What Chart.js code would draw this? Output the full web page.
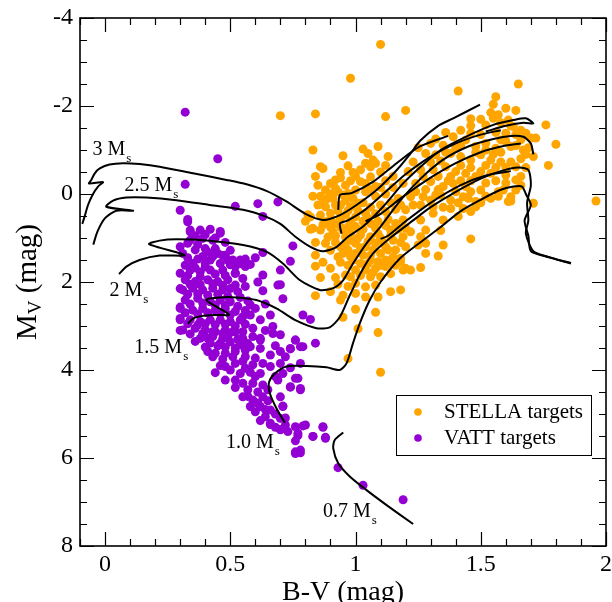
<!DOCTYPE html>
<html><head><meta charset="utf-8">
<script src="https://cdn.jsdelivr.net/npm/chart.js@4.4.1/dist/chart.umd.min.js"></script>
<style>html,body{margin:0;padding:0;background:#fff}canvas{display:block}</style>
</head><body>
<canvas id="c" width="612" height="602"></canvas>
<script>
const xTicks=[0,0.5,1,1.5,2];
const yTicks=[-4,-2,0,2,4,6,8];
const seriesNames=['STELLA targets','VATT targets'];

const stella=[
[1.10,-3.40],[0.98,-2.63],[1.65,-2.50],[1.41,-2.34],[1.56,-2.21],[0.70,-1.78],[0.84,-1.82],[1.12,-1.76],[1.20,-1.90],[1.55,-2.04],[1.46,-1.71],[1.60,-1.95],[1.64,-1.90],[1.76,-1.57],[1.80,-1.13],[1.77,-0.65],[1.96,0.16],[1.71,0.21],[1.46,1.02],[1.10,4.05],[0.97,3.74],[1.09,3.15],[1.01,3.06],[1.08,2.69],[1.00,2.62],[0.95,2.80],[0.84,2.31],[0.94,2.41],[0.84,1.64],
[0.83,-1.00],[0.95,-0.87],[1.03,-1.02],[1.09,-1.08],[1.05,-0.92],[1.07,-0.77],[0.86,-0.62],[0.87,-0.58],[0.97,-0.64],[0.94,-0.49],[0.99,-0.49],[1.06,-0.62],[1.08,-0.70],[0.90,-0.24],[0.92,-0.32],[0.94,-0.37],[0.88,-0.09],[0.92,-0.13],[1.02,-0.28],[1.06,-0.39],[1.04,-0.24],[1.08,-0.17],[1.00,-0.09],[1.04,-0.05],[0.89,0.10],[0.91,0.10],[0.95,0.02],[0.97,-0.01],[0.88,0.29],[0.92,0.25],[0.94,0.25],[0.98,0.29],[1.01,0.21],[0.86,0.48],[0.90,0.44],[0.96,0.48],[1.00,0.52],[1.04,0.44],[0.82,0.52],[0.88,0.63],[0.92,0.67],[1.00,0.74],[1.06,0.67],[0.83,0.78],[0.86,0.82],[0.91,0.86],[0.95,0.82],[0.98,0.90],[1.02,0.93],[1.06,0.97],[1.09,0.90],[1.14,0.82],[1.16,0.67],[1.19,0.59],[0.98,1.05],[1.00,1.12],[1.04,1.20],[1.08,1.12],[1.11,1.09],[1.15,1.05],[1.19,0.97],[0.94,1.20],[0.97,1.27],[1.00,1.35],[1.03,1.39],[1.06,1.39],[1.10,1.35],[1.13,1.27],[1.16,1.27],[1.20,1.20],[0.84,1.39],[0.93,1.43],[0.99,1.50],[1.02,1.58],[1.06,1.50],[1.09,1.54],[1.12,1.50],[1.15,1.43],[1.18,1.46],[0.90,1.69],[1.00,1.73],[1.04,1.73],[1.08,1.69],[1.12,1.65],[1.16,1.62],[1.20,1.69],[0.86,1.90],[0.96,1.84],[0.98,1.88],[1.06,1.88],[1.10,1.88],[1.14,1.81],[1.00,2.03],[1.04,2.11],[1.08,2.07],[0.90,2.22],[0.95,2.30],[1.00,2.26],[1.04,2.34],[1.09,2.34],[1.14,2.22],[1.18,2.18],
[1.52,-1.57],[1.57,-1.80],[1.55,-1.72],[1.61,-1.68],[1.63,-1.53],[1.60,-1.38],[1.58,-1.23],[1.39,-1.30],[1.30,-1.15],[1.35,-1.11],[1.44,-1.23],[1.48,-1.08],[1.52,-1.15],[1.56,-1.04],[1.62,-1.08],[1.66,-1.23],[1.70,-1.27],[1.72,-1.27],[1.71,-0.85],[1.28,-0.92],[1.32,-0.89],[1.38,-0.92],[1.42,-0.85],[1.46,-0.77],[1.50,-0.89],[1.54,-0.77],[1.58,-0.73],[1.62,-0.73],[1.64,-0.62],[1.23,-0.73],[1.21,-0.51],[1.26,-0.55],[1.31,-0.55],[1.36,-0.62],[1.40,-0.51],[1.44,-0.47],[1.50,-0.51],[1.54,-0.47],[1.60,-0.43],[1.64,-0.32],[1.19,-0.24],[1.24,-0.24],[1.30,-0.28],[1.35,-0.17],[1.39,-0.24],[1.44,-0.17],[1.50,-0.09],[1.54,0.10],[1.59,-0.09],[1.62,0.06],[1.22,0.06],[1.27,0.06],[1.32,0.02],[1.38,0.14],[1.43,0.06],[1.48,0.17],[1.26,0.25],[1.31,0.29],
[1.61,0.17],[1.50,0.20],[1.48,0.29],[1.46,0.40],[1.43,0.33],[1.38,0.33],[1.41,0.51],[1.35,0.59],[1.34,0.83],[1.35,1.16],[1.28,1.12],[1.25,1.16],[1.28,1.35],[1.33,1.41],[1.26,1.67],[1.22,1.73],[1.19,1.73],[1.18,1.54],[1.28,0.82],[1.26,0.97],[1.22,0.86],[1.31,0.44],[1.26,0.59],[1.20,0.36],[1.23,0.25],[1.34,0.02],[1.30,0.14],[1.57,-0.05],[1.64,-0.09],[1.62,0.16],[1.66,-0.40],[1.68,-0.90],[1.69,-1.05],
[0.85,-0.20],[0.86,0.05],[0.87,0.20],[0.90,0.00],[0.93,-0.05],[0.96,-0.20],[0.98,-0.30],[1.00,-0.40],[1.02,-0.55],[1.04,-0.70],[1.10,-0.50],[1.12,-0.65],[1.13,-0.85],[1.15,-0.40],[1.12,-0.30],[1.10,-0.15],[1.06,-0.10],[1.08,0.05],[1.12,0.00],[1.15,-0.15],[1.17,0.10],[1.14,0.20],[1.10,0.25],[1.06,0.30],[1.03,0.20],[0.99,0.10],[0.96,0.15],[0.93,0.38],[0.97,0.38],[1.01,0.38],[1.05,0.55],[1.08,0.45],[1.12,0.40],[1.16,0.35],[1.18,0.25],[1.13,0.58],[1.09,0.62],[1.03,0.62],[0.98,0.62],[0.94,0.55],[0.90,0.58],[0.87,0.70],[0.90,0.75],[0.94,0.75],[0.97,0.75],[1.03,0.80],[1.08,0.78],[1.12,0.72],[1.17,0.80],[1.20,0.78],[1.14,0.95],[1.10,1.00],[1.05,1.08],[1.01,1.00],[0.96,0.98],[0.92,0.95],[0.89,0.98],[0.88,1.12],[0.92,1.10],[0.96,1.12],[1.02,1.22],[1.07,1.27],[1.12,1.20],[1.18,1.10],[0.90,1.28],[0.95,1.35],[0.98,1.42],[1.05,1.58],[1.10,1.62],[1.14,1.58],[0.94,1.55],[0.97,1.62],[0.87,1.55],[1.02,1.85],[1.07,1.78],[0.92,1.90],[0.93,2.05],[0.97,2.10],
[1.25,-1.05],[1.32,-1.25],[1.36,-1.40],[1.42,-1.45],[1.46,-1.55],[1.50,-1.70],[1.54,-1.85],[1.58,-1.62],[1.62,-1.55],[1.66,-1.45],[1.68,-1.38],[1.64,-1.35],[1.56,-1.40],[1.50,-1.35],[1.46,-1.38],[1.42,-1.10],[1.40,-1.05],[1.36,-0.95],[1.34,-0.75],[1.30,-0.72],[1.27,-0.40],[1.33,-0.40],[1.38,-0.40],[1.42,-0.65],[1.46,-0.60],[1.48,-0.95],[1.52,-1.00],[1.55,-0.90],[1.58,-0.95],[1.60,-1.20],[1.64,-1.10],[1.67,-1.00],[1.66,-0.80],[1.60,-0.60],[1.56,-0.60],[1.52,-0.65],[1.48,-0.40],[1.46,-0.30],[1.42,-0.30],[1.37,-0.30],[1.33,-0.10],[1.28,-0.10],[1.24,-0.05],[1.40,-0.05],[1.46,-0.05],[1.52,-0.25],[1.56,-0.30],[1.60,-0.25],[1.66,-0.20],[1.68,-0.60],[1.45,0.10],[1.41,0.20],[1.35,0.30],[1.57,0.05],[1.52,0.05],
[0.81,0.47],[0.82,0.80],[0.80,0.62],[0.84,1.10],[0.85,0.25],[0.83,0.05],[0.84,-0.40]
];

const vatt=[
[0.30,0.37],[0.33,0.58],[0.32,-0.22],[0.32,-1.86],[0.45,-0.80],[0.52,0.28],[0.61,0.22],[0.69,0.18],[0.63,0.51],[0.63,1.33],[0.75,1.18],[0.74,1.53],[0.63,1.84],[0.70,2.06],[0.71,2.38],[0.79,2.75],[0.82,2.85],[0.84,3.39],[0.76,3.32],[0.74,3.52],[0.79,3.47],[0.78,4.45],[0.74,4.39],[0.77,4.19],[0.71,4.82],[0.72,5.09],[0.79,5.27],[0.87,5.30],[0.83,5.51],[0.88,5.55],[0.77,5.49],[0.76,5.61],[0.78,5.88],[0.76,5.90],[0.93,6.22],[1.03,6.62],[1.19,6.95],[0.70,5.35],[0.66,5.24],
[0.30,1.80],[0.30,2.15],[0.30,2.57],[0.30,2.83],[0.30,3.10],[0.34,0.82],[0.42,0.80],[0.46,0.85],[0.47,1.40],[0.51,1.56],[0.52,1.80],[0.54,1.52],[0.56,1.48],[0.44,4.06],
[0.33,0.63],[0.34,0.86],[0.38,0.82],[0.46,0.89],[0.34,1.05],[0.39,1.01],[0.43,1.05],[0.30,1.20],[0.36,1.27],[0.40,1.24],[0.44,1.24],[0.31,1.35],[0.39,1.42],[0.43,1.42],[0.48,1.39],[0.51,1.50],[0.54,1.50],[0.35,1.58],[0.40,1.58],[0.46,1.58],[0.50,1.61],[0.54,1.58],[0.34,1.73],[0.38,1.77],[0.42,1.73],[0.47,1.73],[0.52,1.80],[0.70,1.73],[0.32,1.95],[0.36,1.99],[0.41,1.95],[0.45,1.99],[0.49,1.95],[0.52,2.07],[0.69,2.07],[0.31,2.18],[0.35,2.14],[0.39,2.18],[0.43,2.14],[0.47,2.18],[0.53,2.22],[0.63,2.20],[0.32,2.41],[0.37,2.37],[0.42,2.45],[0.46,2.41],[0.50,2.45],[0.58,2.52],[0.30,2.60],[0.35,2.64],[0.39,2.60],[0.44,2.64],[0.48,2.60],[0.52,2.67],[0.58,2.75],[0.55,2.79],[0.30,2.86],[0.34,2.86],[0.38,2.90],[0.42,2.86],[0.46,2.86],[0.50,2.90],[0.54,2.86],[0.62,2.86],[0.67,3.01],[0.31,3.09],[0.36,3.05],[0.40,3.09],[0.44,3.13],[0.48,3.09],[0.52,3.13],[0.59,3.05],[0.38,3.28],[0.43,3.24],[0.47,3.28],[0.55,3.28],[0.62,3.28],
[0.39,3.17],[0.43,3.13],[0.47,3.17],[0.51,3.13],[0.55,3.13],[0.59,3.24],[0.62,3.32],[0.67,3.17],[0.76,3.32],[0.78,3.47],[0.42,3.39],[0.46,3.39],[0.50,3.36],[0.54,3.43],[0.58,3.47],[0.62,3.51],[0.70,3.58],[0.74,3.51],[0.41,3.58],[0.44,3.62],[0.48,3.62],[0.52,3.58],[0.56,3.70],[0.60,3.73],[0.66,3.66],[0.70,3.85],[0.78,3.85],[0.48,3.92],[0.52,3.85],[0.56,3.96],[0.62,4.08],[0.66,3.92],[0.71,4.08],[0.76,4.19],[0.48,4.23],[0.52,4.23],[0.55,4.30],[0.59,4.30],[0.63,4.34],[0.69,4.23],[0.74,4.38],[0.78,4.42],[0.55,4.61],[0.59,4.68],[0.63,4.61],[0.70,4.61],[0.58,4.83],[0.62,4.83],[0.66,4.91],[0.71,4.83],[0.64,5.06],[0.66,5.21],[0.70,5.10],[0.72,5.25],[0.70,5.36],[0.76,5.29],[0.77,5.44],[0.80,5.25],[0.83,5.51],[0.87,5.29],[0.88,5.53],[0.76,5.86],[0.78,5.82],
[0.36,0.95],[0.40,0.92],[0.44,1.00],[0.48,1.10],[0.33,1.12],[0.37,1.15],[0.41,1.32],[0.45,1.35],[0.50,1.28],[0.33,1.45],[0.37,1.48],[0.42,1.50],[0.49,1.50],[0.52,1.65],[0.56,1.65],[0.32,1.62],[0.36,1.68],[0.40,1.66],[0.44,1.82],[0.48,1.85],[0.55,1.92],[0.33,1.85],[0.38,1.88],[0.34,2.05],[0.38,2.06],[0.43,2.04],[0.47,2.08],[0.50,2.15],[0.56,2.10],[0.33,2.28],[0.37,2.27],[0.41,2.30],[0.45,2.28],[0.49,2.33],[0.54,2.35],[0.57,2.43],[0.34,2.50],[0.39,2.48],[0.44,2.52],[0.48,2.52],[0.53,2.55],[0.32,2.70],[0.37,2.73],[0.41,2.70],[0.46,2.72],[0.50,2.75],[0.56,2.65],[0.33,2.95],[0.37,2.98],[0.40,2.95],[0.44,2.97],[0.48,2.96],[0.52,3.00],[0.56,2.96],[0.34,3.18],[0.36,3.35],[0.41,3.28],[0.45,3.45],[0.49,3.24],[0.53,3.30],[0.57,3.40],[0.40,3.48],[0.48,3.48],[0.52,3.50],[0.56,3.55],[0.43,3.70],[0.47,3.75],[0.51,3.70],[0.55,3.80],[0.59,3.88],[0.63,3.85],[0.46,3.90],[0.50,4.00],[0.54,4.08],[0.58,4.05],[0.60,4.15],[0.52,4.40],[0.57,4.45],[0.61,4.50],[0.65,4.45],[0.57,4.60],[0.61,4.75],[0.65,4.70],[0.60,4.95],[0.64,4.90],[0.68,5.00],[0.62,5.15],[0.68,5.30],[0.73,5.40],
[0.60,1.45],[0.58,1.60],[0.61,2.00],[0.60,2.60],[0.64,2.50],[0.66,2.75],[0.64,3.10],[0.70,3.20],[0.68,3.45],[0.72,3.70],[0.74,3.95],[0.68,4.15]
];

const track30=[[-0.091,0.68],[-0.082,0.52],[-0.068,0.25],[-0.048,0.0],[-0.028,-0.17],[-0.008,-0.27],[-0.064,-0.24],[-0.055,-0.32],[-0.041,-0.47],[-0.021,-0.58],[0.018,-0.67],[0.072,-0.70],[0.138,-0.68],[0.218,-0.62],[0.351,-0.47],[0.485,-0.32],[0.565,-0.22],[0.644,-0.07],[0.724,0.17],[0.80,0.45],[0.871,0.59],[0.938,0.48],[1.004,0.25],[1.084,-0.09],[1.164,-0.54],[1.217,-0.90],[1.26,-1.22],[1.33,-1.55],[1.39,-1.72],[1.497,-2.03]];
const loop30=[[0.931,0.36],[0.938,0.02],[0.984,-0.02],[1.071,-0.28],[1.164,-0.70],[1.257,-1.08],[1.37,-1.32]];
const track25=[[-0.047,1.15],[-0.030,0.85],[0.000,0.55],[0.045,0.38],[0.112,0.38],[0.005,0.29],[0.032,0.15],[0.085,0.08],[0.165,0.08],[0.285,0.14],[0.418,0.25],[0.551,0.36],[0.644,0.52],[0.70,0.68],[0.76,0.97],[0.82,1.20],[0.87,1.30],[0.92,1.22],[0.97,0.97],[1.03,0.74],[1.11,0.29],[1.19,-0.24],[1.26,-0.62],[1.34,-1.0],[1.44,-1.30],[1.55,-1.57],[1.63,-1.68],[1.68,-1.72],[1.71,-1.60],[1.67,-1.62],[1.60,-1.55],[1.52,-1.42]];
const loop25=[[0.944,0.90],[0.938,0.67],[0.97,0.60],[1.04,0.35],[1.12,-0.05],[1.20,-0.45],[1.30,-0.85],[1.40,-1.15],[1.50,-1.35],[1.58,-1.45]];
const track20=[[0.056,1.82],[0.085,1.65],[0.138,1.50],[0.218,1.40],[0.318,1.39],[0.176,1.14],[0.218,1.06],[0.285,1.03],[0.418,1.06],[0.551,1.16],[0.644,1.31],[0.71,1.58],[0.777,1.955],[0.857,2.18],[0.911,2.14],[0.951,1.955],[0.99,1.58],[1.044,1.12],[1.10,0.74],[1.18,0.14],[1.26,-0.35],[1.35,-0.78],[1.45,-1.08],[1.55,-1.25],[1.62,-1.32],[1.67,-1.30],[1.70,-1.15],[1.71,-0.9]];
const loop20=[[1.04,0.62],[1.10,0.45],[1.18,0.10],[1.28,-0.30],[1.40,-0.70],[1.50,-0.95],[1.60,-1.10],[1.66,-1.15]];
const track15=[[0.331,2.95],[0.351,2.83],[0.391,2.77],[0.444,2.75],[0.495,2.74],[0.404,2.41],[0.458,2.35],[0.524,2.35],[0.604,2.41],[0.684,2.6],[0.764,2.88],[0.844,3.05],[0.897,3.03],[0.937,2.80],[0.975,2.33],[1.02,1.80],[1.07,1.35],[1.138,1.0],[1.23,0.60],[1.30,0.30],[1.40,-0.05],[1.50,-0.35],[1.58,-0.52],[1.65,-0.60],[1.69,-0.55],[1.70,-0.2],[1.685,0.2],[1.69,0.6],[1.68,0.9],[1.71,1.3],[1.77,1.43],[1.86,1.58]];
const loop15=[[1.10,1.02],[1.13,0.95],[1.20,0.62],[1.30,0.20],[1.42,-0.20],[1.52,-0.42],[1.62,-0.52]];
const track10=[[0.718,5.20],[0.684,4.87],[0.658,4.53],[0.655,4.27],[0.678,4.08],[0.724,3.92],[0.804,3.91],[0.884,3.94],[0.937,4.0],[0.964,3.85],[0.99,3.39],[1.017,2.94],[1.057,2.41],[1.10,2.0],[1.18,1.45],[1.27,1.05],[1.34,0.75],[1.417,0.40],[1.497,0.14],[1.577,-0.09],[1.63,-0.17],[1.665,-0.17],[1.68,0.0],[1.70,0.25],[1.675,0.6],[1.69,0.95],[1.70,1.3],[1.76,1.42],[1.86,1.57]];
const track07=[[0.951,5.42],[0.917,5.59],[0.911,5.78],[0.931,6.12],[0.977,6.42],[1.044,6.73],[1.124,7.07],[1.23,7.50]];
const tracks=[track30,loop30,track25,loop25,track20,loop20,track15,loop15,track10,track07];

const massLabels=['3','2.5','2','1.5','1.0','0.7'];
const massLabelX=[-0.05,0.078,0.018,0.117,0.483,0.870];
const massLabelY=[-0.89,-0.07,2.31,3.62,5.78,7.33];

const serif='"Liberation Serif","Times New Roman",serif';
const toXY=a=>a.map(p=>({x:p[0],y:p[1]}));

const datasets=[];
tracks.forEach(t=>datasets.push({data:toXY(t),showLine:true,borderColor:'#000',borderWidth:2,pointRadius:0,tension:0.25,fill:false,order:0}));
datasets.push({label:seriesNames[0],data:toXY(stella),backgroundColor:'#FFA500',borderWidth:0,pointRadius:4.5,order:2});
datasets.push({label:seriesNames[1],data:toXY(vatt),backgroundColor:'#9400D3',borderWidth:0,pointRadius:4.5,order:1});

function subText(ctx,main,sub,x,y,fs,ss,dy){
  ctx.font=fs+'px '+serif; ctx.fillText(main,x,y);
  const w=ctx.measureText(main).width;
  ctx.font=ss+'px '+serif; ctx.fillText(sub,x+w+1,y+dy);
}

const decor={
  id:'decor',
  afterDraw(chart){
    const {ctx,chartArea:a,scales:{x,y}}=chart;
    ctx.save();
    ctx.strokeStyle='#000'; ctx.fillStyle='#000';
    ctx.lineWidth=1.2;
    ctx.beginPath();
    for(let i=-1;i<=20;i++){
      const v=i/10; if(v<x.min-1e-9||v>x.max+1e-9) continue;
      const px=Math.round(x.getPixelForValue(v))+0.5;
      const major=Math.abs(v*2-Math.round(v*2))<1e-6;
      const L=major?14:7;
      ctx.moveTo(px,a.bottom);ctx.lineTo(px,a.bottom-L);
      ctx.moveTo(px,a.top);ctx.lineTo(px,a.top+L);
    }
    for(let v=-4;v<=8;v+=0.5){
      const py=Math.round(y.getPixelForValue(v))+0.5;
      const major=Math.abs(v/2-Math.round(v/2))<1e-6;
      const L=major?14:7;
      ctx.moveTo(a.left,py);ctx.lineTo(a.left+L,py);
      ctx.moveTo(a.right,py);ctx.lineTo(a.right-L,py);
    }
    ctx.stroke();
    ctx.lineWidth=1.6;
    ctx.strokeRect(a.left,a.top,a.right-a.left,a.bottom-a.top);

    ctx.textAlign='left'; ctx.textBaseline='alphabetic';
    massLabels.forEach((m,i)=>{
      subText(ctx,m+' M','s',x.getPixelForValue(massLabelX[i]),y.getPixelForValue(massLabelY[i]),20,13,7);
    });

    ctx.font='28px '+serif; ctx.textAlign='center';
    ctx.fillText('B-V (mag)',(a.left+a.right)/2,600);

    ctx.save();
    ctx.translate(36,(a.top+a.bottom)/2);
    ctx.rotate(-Math.PI/2);
    ctx.textAlign='left';
    ctx.font='29px '+serif; const w1=ctx.measureText('M').width;
    ctx.font='19px '+serif; const w2=ctx.measureText('V').width;
    ctx.font='29px '+serif; const w3=ctx.measureText(' (mag)').width;
    let sx=-(w1+w2+w3)/2;
    ctx.fillText('M',sx,0); sx+=w1;
    ctx.font='19px '+serif; ctx.fillText('V',sx,5); sx+=w2;
    ctx.font='29px '+serif; ctx.fillText(' (mag)',sx,0);
    ctx.restore();

    const bx=a.right-210, by=a.top+377, bw=195, bh=60;
    ctx.fillStyle='#fff'; ctx.fillRect(bx,by,bw,bh);
    ctx.lineWidth=1; ctx.strokeStyle='#000';
    ctx.strokeRect(bx+0.5,by+0.5,bw,bh);
    const cols=[datasets[datasets.length-2].backgroundColor,datasets[datasets.length-1].backgroundColor];
    ctx.font='21px '+serif; ctx.textAlign='left';
    seriesNames.forEach((n,i)=>{
      ctx.fillStyle=cols[i];
      ctx.beginPath(); ctx.arc(bx+22,by+17+i*26,3.8,0,Math.PI*2); ctx.fill();
      ctx.fillStyle='#000';
      ctx.fillText(n,bx+48,by+23+i*26);
    });
    ctx.restore();
  }
};

new Chart(document.getElementById('c'),{
  type:'scatter',
  data:{datasets},
  options:{
    responsive:false,animation:false,devicePixelRatio:1,
    layout:{padding:{top:18,right:6,left:0,bottom:0}},
    plugins:{legend:{display:false},tooltip:{enabled:false}},
    scales:{
      x:{type:'linear',min:-0.1,max:2.0,
        afterBuildTicks:s=>{s.ticks=xTicks.map(v=>({value:v}));},
        afterFit:s=>{s.height=56;s.paddingLeft=0;s.paddingRight=0;},
        grid:{display:false,drawTicks:false},border:{display:false},
        ticks:{color:'#000',font:{family:serif,size:24},padding:4,maxRotation:0,autoSkip:false,callback:v=>String(v)}},
      y:{type:'linear',reverse:true,min:-4,max:8,
        afterBuildTicks:s=>{s.ticks=yTicks.map(v=>({value:v}));},
        afterFit:s=>{s.width=80;s.paddingTop=0;s.paddingBottom=0;},
        grid:{display:false,drawTicks:false},border:{display:false},
        ticks:{color:'#000',font:{family:serif,size:24},padding:7,autoSkip:false,callback:v=>String(v)}}
    }
  },
  plugins:[decor]
});
</script>
</body></html>
